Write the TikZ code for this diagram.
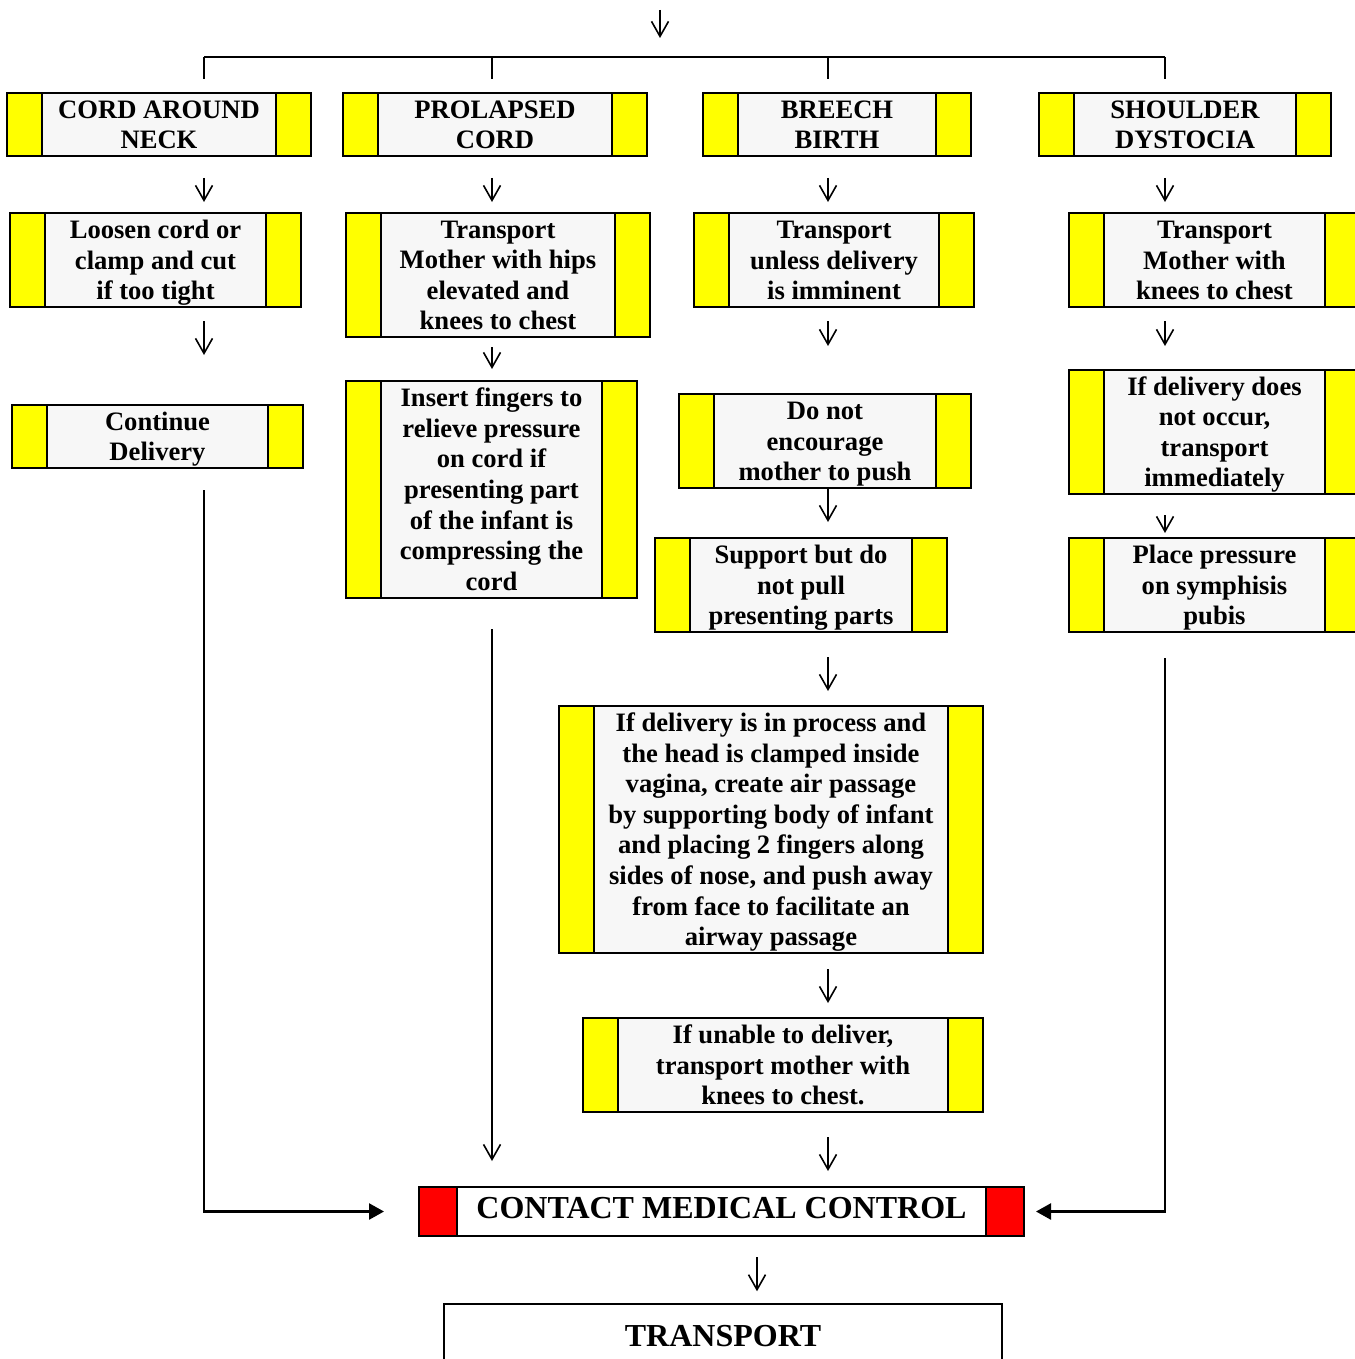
\documentclass[tikz,border=0pt]{standalone}
\usepackage{fontspec}
\setmainfont{Liberation Serif}
\usetikzlibrary{arrows.meta}
\definecolor{boxgray}{HTML}{F7F7F7}
\definecolor{bandyellow}{RGB}{255,255,0}
\definecolor{bandred}{RGB}{255,0,0}
\newcommand\stepfont{\fontsize{26.6}{30.6}\selectfont\bfseries
  \setbox\strutbox\hbox{\vrule height 24.3pt depth 6.3pt width 0pt}}
\tikzset{
  band/.store in=\bandwidth, band=35pt,
  boxw/.style={minimum width=#1, text width=#1-74pt},
  stepbox/.style={draw, line width=2pt, fill=boxgray, inner sep=0pt, align=flush center,
    font=\stepfont, execute at begin node=\strut, execute at end node=\strut,
    path picture={
      \fill[#1] (path picture bounding box.north west) rectangle ([xshift=\bandwidth]path picture bounding box.south west);
      \fill[#1] (path picture bounding box.north east) rectangle ([xshift=-\bandwidth]path picture bounding box.south east);
      \draw[line width=2pt] ([xshift=\bandwidth]path picture bounding box.north west) -- ([xshift=\bandwidth]path picture bounding box.south west)
        ([xshift=-\bandwidth]path picture bounding box.north east) -- ([xshift=-\bandwidth]path picture bounding box.south east);
    }},
  stepbox/.default=bandyellow,
  bigtext/.style={font=\fontsize{32}{36}\selectfont\bfseries, execute at begin node={}, execute at end node={}},
  arr/.style={line width=1.6pt, -{Straight Barb[length=15pt,width=17pt]}},
  feed/.style={line width=2.5pt, -{Triangle[length=15pt,width=16pt]}},
}
\begin{document}
\begin{tikzpicture}[x=1pt,y=-1pt]
  \useasboundingbox[fill=white] (0,0) rectangle (1354,1359);
  \coordinate (entry) at (660,10);
  \coordinate (bar) at (0,57);
  \coordinate (c1) at (204,0);
  \coordinate (c2) at (492,0);
  \coordinate (c3) at (828,0);
  \coordinate (c4) at (1165,0);
  \coordinate (c5) at (757,0);

  \node[stepbox, boxw=304pt, minimum height=63pt] (neck) at (159,124.5) {CORD AROUND\\NECK};
  \node[stepbox, boxw=304pt, minimum height=63pt] (prolapse) at (495,124.5) {PROLAPSED\\CORD};
  \node[stepbox, boxw=268pt, minimum height=63pt] (breech) at (837,124.5) {BREECH\\BIRTH};
  \node[stepbox, boxw=292pt, minimum height=63pt] (shoulder) at (1185,124.5) {SHOULDER\\DYSTOCIA};

  \node[stepbox, boxw=291pt, minimum height=94pt] (loosen) at (155.5,260) {Loosen cord or\\clamp and cut\\if too tight};
  \node[stepbox, boxw=304pt, minimum height=124pt] (hips) at (498,275) {Transport\\Mother with hips\\elevated and\\knees to chest};
  \node[stepbox, boxw=280pt, minimum height=94pt] (unless) at (834,260) {Transport\\unless delivery\\is imminent};
  \node[stepbox, boxw=291pt, minimum height=94pt] (knees) at (1214.5,260) {Transport\\Mother with\\knees to chest};

  \node[stepbox, boxw=291pt, minimum height=63pt] (cont) at (157.5,436.5) {Continue\\Delivery};
  \node[stepbox, boxw=291pt, minimum height=217pt] (fingers) at (491.5,489.5) {Insert fingers to\\relieve pressure\\on cord if\\presenting part\\of the infant is\\compressing the\\cord};
  \node[stepbox, boxw=292pt, minimum height=94pt] (nopush) at (825,441) {Do not\\encourage\\mother to push};
  \node[stepbox, boxw=291pt, minimum height=124pt] (occur) at (1214.5,432) {If delivery does\\not occur,\\transport\\immediately};

  \node[stepbox, boxw=292pt, minimum height=94pt] (nopull) at (801,585) {Support but do\\not pull\\presenting parts};
  \node[stepbox, boxw=291pt, minimum height=94pt] (pubis) at (1214.5,585) {Place pressure\\on symphisis\\pubis};

  \node[stepbox, boxw=424pt, minimum height=247pt] (airway) at (771,829.5) {If delivery is in process and\\the head is clamped inside\\vagina, create air passage\\by supporting body of infant\\and placing 2 fingers along\\sides of nose, and push away\\from face to facilitate an\\airway passage};
  \node[stepbox, boxw=400pt, minimum height=94pt] (unable) at (783,1065) {If unable to deliver,\\transport mother with\\knees to chest.};

  \node[stepbox=bandred, band=38pt, fill=white, bigtext, text height=21pt, text depth=8pt,
    minimum width=605pt, minimum height=49pt] (mc) at (721.5,1211.5) {CONTACT MEDICAL CONTROL};
  \node[draw, line width=1.5pt, fill=white, bigtext, text height=21pt, text depth=0pt,
    minimum width=558pt, minimum height=64pt] (transport) at (723,1336) {TRANSPORT};

  \draw[arr, shorten >=19pt] (entry) -- (entry |- bar);
  \draw[line width=2.5pt] (bar -| c1) -- (bar -| c4);
  \foreach \c/\b in {c1/neck,c2/prolapse,c3/breech,c4/shoulder}
    \draw[line width=2pt, shorten >=13pt] (bar -| \c) -- (\b.north -| \c);
  \foreach \c/\a/\b/\s/\e in {c1/neck/loosen/21/10, c1/loosen/cont/13/49,
      c2/prolapse/hips/21/10, c2/hips/fingers/9/11, c2/fingers/mc/30/25,
      c3/breech/unless/21/10, c3/unless/nopush/13/47, c3/nopush/nopull/0/15,
      c3/nopull/airway/24/14, c3/airway/unable/15/14, c3/unable/mc/24/15,
      c4/shoulder/knees/21/10, c4/knees/occur/13/23, c4/occur/pubis/20/4,
      c5/mc/transport/20/12}
    \draw[arr, shorten <=\s pt, shorten >=\e pt] (\a.south -| \c) -- (\b.north -| \c);
  \draw[feed, shorten <=21pt, shorten >=34pt] (cont.south -| c1) |- (mc.west);
  \draw[feed, shorten <=25pt, shorten >=11pt] (pubis.south -| c4) |- (mc.east);
\end{tikzpicture}
\end{document}
